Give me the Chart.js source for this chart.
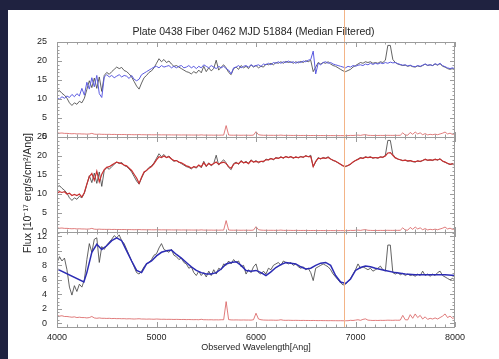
<!DOCTYPE html>
<html>
<head>
<meta charset="utf-8">
<title>Plate 0438 Fiber 0462 MJD 51884</title>
<script src="https://cdn.jsdelivr.net/npm/chart.js@4.4.0/dist/chart.umd.min.js"></script>
<style>
	html, body { margin: 0; padding: 0; width: 499px; height: 359px; overflow: hidden; background: #1f2240; }
	#page { position: absolute; left: 8px; top: 10px; width: 491px; height: 349px; background: #fff; }
</style>
</head>
<body>
<div id="page"><canvas id="spec" width="491" height="349"></canvas></div>
<script>
// wavelength sampling of the spectra, 25 Ang steps from 4000 to 8000
const GRID = Array.from({length: 161}, (_, i) => 4000 + 25 * i);

// observed flux (top and middle panels, black)
const FLUX = [
	11.8, 12.2, 11.5, 11.0, 10.2, 9.0, 8.3, 9.0,
	8.6, 9.4, 9.0, 10.2, 12.5, 14.8, 13.0, 15.5,
	12.8, 15.8, 12.0, 16.2, 17.0, 16.5, 17.2, 17.8,
	18.4, 18.0, 18.3, 17.5, 17.2, 16.6, 15.8, 14.6,
	13.4, 12.6, 14.2, 15.6, 16.2, 17.0, 17.4, 18.2,
	19.4, 20.6, 19.8, 20.4, 19.6, 20.0, 19.2, 18.6,
	18.8, 18.4, 18.0, 17.6, 17.2, 17.0, 16.6, 17.2,
	16.8, 17.6, 16.9, 18.6, 17.2, 18.2, 17.4, 18.0,
	20.2, 17.6, 18.4, 19.0, 18.2, 17.0, 16.4, 18.0,
	18.4, 17.8, 18.8, 18.2, 18.6, 18.0, 19.0, 18.4,
	18.8, 18.2, 18.6, 18.4, 19.2, 19.0, 19.4, 19.0,
	19.6, 19.4, 19.8, 19.4, 19.9, 19.6, 19.8, 19.4,
	19.8, 19.5, 19.9, 19.6, 20.1, 19.8, 20.2, 17.2,
	18.4, 19.6, 19.2, 19.6, 19.4, 19.8, 19.2, 18.8,
	18.6, 18.2, 17.8, 17.4, 17.2, 17.5, 17.8, 18.4,
	18.8, 19.2, 19.6, 19.4, 19.8, 19.6, 19.8, 19.4,
	19.6, 19.4, 19.8, 19.6, 20.2, 24.1, 24.1, 20.4,
	19.6, 19.2, 19.0, 18.8, 18.9, 18.6, 18.8, 18.5,
	18.4, 18.7, 18.5, 18.8, 19.2, 18.8, 19.0, 18.8,
	19.2, 18.9, 19.3, 18.6, 18.4, 18.0, 17.8, 18.0,
	17.6
];

// comparison spectrum (top panel, blue)
const TEMPLATE = [
	10.2, 10.0, 10.6, 10.2, 10.8, 10.4, 11.2, 10.6,
	11.4, 10.8, 12.8, 11.0, 14.4, 12.6, 15.6, 13.2,
	16.2, 11.4, 10.4, 15.8, 16.4, 15.8, 16.2, 15.6,
	16.0, 16.4, 15.8, 16.2, 16.0, 15.4, 16.2, 15.2,
	14.8, 15.2, 16.4, 16.8, 17.2, 17.6, 18.0, 18.4,
	18.6, 18.2, 18.8, 18.4, 18.6, 18.8, 18.2, 18.6,
	18.2, 18.6, 18.8, 18.2, 18.4, 18.8, 18.2, 18.6,
	18.0, 18.6, 18.2, 19.0, 18.6, 18.2, 18.8, 18.4,
	18.0, 18.6, 18.2, 18.6, 18.0, 17.6, 16.6, 18.2,
	18.4, 18.8, 18.2, 18.6, 18.8, 18.4, 19.0, 18.6,
	18.8, 19.0, 18.6, 19.2, 19.0, 19.4, 19.0, 19.6,
	19.4, 19.8, 19.4, 19.8, 19.6, 20.0, 19.6, 19.8,
	19.4, 19.8, 19.6, 20.0, 19.8, 20.2, 20.4, 22.6,
	16.6, 19.4, 19.0, 19.6, 19.8, 19.4, 19.6, 19.2,
	19.0, 18.8, 18.6, 18.4, 18.2, 18.6, 18.4, 18.8,
	18.6, 18.9, 19.0, 18.8, 19.2, 19.0, 19.4, 19.1,
	19.4, 19.2, 19.5, 19.3, 19.6, 19.4, 19.7, 19.5,
	19.6, 19.3, 19.1, 18.9, 19.0, 18.7, 18.9, 18.6,
	18.5, 18.8, 18.6, 18.9, 19.2, 18.9, 19.0, 18.8,
	19.3, 19.0, 19.4, 18.8, 18.5, 18.2, 18.0, 18.2,
	17.9
];

// median filtered flux (middle panel, red)
const FILTERED = [
	10.2, 10.6, 10.4, 10.6, 10.0, 10.2, 9.6, 9.9,
	9.6, 10.0, 9.2, 10.4, 12.6, 14.6, 15.4, 13.6,
	16.0, 13.2, 15.2, 16.4, 17.0, 17.2, 17.6, 18.0,
	18.4, 18.2, 18.0, 17.6, 17.4, 16.8, 16.2, 15.2,
	14.2, 12.8, 14.4, 15.8, 16.2, 16.8, 17.2, 18.0,
	19.0, 19.8, 19.6, 20.0, 19.6, 19.8, 19.2, 18.8,
	18.8, 18.4, 18.2, 17.8, 17.4, 17.2, 16.8, 17.2,
	17.0, 17.6, 17.2, 18.2, 17.4, 18.0, 17.6, 18.0,
	18.4, 17.8, 18.2, 18.4, 18.0, 17.2, 16.8, 17.8,
	18.2, 18.0, 18.6, 18.2, 18.4, 18.0, 18.8, 18.4,
	18.6, 18.4, 18.6, 18.6, 19.0, 19.0, 19.3, 19.1,
	19.5, 19.4, 19.7, 19.5, 19.8, 19.6, 19.8, 19.5,
	19.7, 19.6, 19.8, 19.7, 20.0, 19.8, 19.9, 17.2,
	18.6, 19.4, 19.3, 19.5, 19.4, 19.6, 19.2, 18.9,
	18.6, 18.2, 17.8, 17.4, 17.3, 17.5, 17.9, 18.4,
	18.8, 19.1, 19.5, 19.4, 19.7, 19.6, 19.7, 19.5,
	19.6, 19.5, 19.7, 19.7, 20.0, 20.8, 20.9, 20.2,
	19.5, 19.2, 19.0, 18.8, 18.9, 18.7, 18.8, 18.6,
	18.5, 18.7, 18.6, 18.8, 19.1, 18.9, 19.0, 18.9,
	19.1, 19.0, 19.2, 18.7, 18.4, 18.1, 17.8, 17.9,
	17.6
];

// flux in the bottom panel (black)
const SPEC3 = [
	8.4, 9.2, 8.6, 9.0, 7.4, 5.0, 3.9, 5.2,
	4.4, 5.4, 5.0, 6.0, 8.8, 11.0, 9.8, 11.6,
	11.8, 8.4, 10.6, 10.2, 10.8, 11.2, 11.6, 12.1,
	11.8, 12.2, 11.4, 11.0, 10.2, 9.4, 8.6, 7.8,
	7.0, 6.8, 7.2, 7.8, 8.2, 8.4, 8.8, 9.4,
	9.6, 10.4, 11.0, 10.2, 10.0, 9.8, 10.2, 9.4,
	9.2, 8.8, 9.0, 8.4, 8.2, 7.6, 7.8, 7.0,
	6.6, 7.2, 6.6, 7.0, 6.4, 7.2, 6.6, 7.4,
	6.8, 7.6, 7.4, 8.2, 8.0, 8.6, 8.2, 8.8,
	8.4, 8.6, 7.8, 8.0, 6.8, 7.4, 7.0, 7.8,
	8.2, 7.0, 6.8, 7.2, 6.8, 7.6, 7.4, 8.0,
	8.2, 8.4, 8.0, 8.6, 8.4, 8.2, 8.4, 8.0,
	8.2, 7.8, 7.6, 7.8, 7.4, 7.6, 7.0, 5.9,
	7.6, 7.8, 8.0, 8.2, 8.0, 7.8, 7.4, 6.8,
	6.4, 6.0, 5.6, 5.3, 5.4, 5.8, 6.2, 6.8,
	7.4, 8.2, 7.6, 7.8, 7.6, 7.4, 7.6, 7.2,
	7.4, 7.6, 7.9, 7.4, 7.2, 10.8, 10.8, 7.0,
	6.8, 7.0, 6.7, 6.9, 6.6, 6.8, 6.6, 6.7,
	6.5, 6.8, 6.6, 7.2, 6.6, 6.8, 6.5, 6.8,
	6.6, 7.0, 7.2, 6.6, 6.4, 6.2, 6.0, 6.2,
	6.0
];

// smooth fit through the bottom panel (blue)
const FIT_WAVE = [
	4000, 4270, 4300, 4350, 4400, 4450, 4500, 4550, 4600, 4650,
	4700, 4750, 4800, 4850, 4900, 4950, 5000, 5050, 5100, 5150,
	5200, 5250, 5300, 5350, 5400, 5450, 5500, 5550, 5600, 5650,
	5700, 5750, 5800, 5850, 5900, 5950, 6000, 6050, 6100, 6150,
	6200, 6250, 6300, 6350, 6400, 6450, 6500, 6550, 6600, 6650,
	6700, 6750, 6800, 6850, 6900, 6950, 7000, 7050, 7100, 7150,
	7200, 7300, 7400, 7500, 7600, 7700, 7800, 7900, 8000
];
const FIT = [
	7.5, 5.7, 7.0, 9.8, 10.9, 10.2, 10.7, 11.4, 11.8, 11.4,
	10.0, 8.6, 7.3, 7.0, 8.2, 8.6, 9.3, 9.8, 10.0, 10.1,
	9.5, 9.0, 8.4, 7.8, 7.3, 7.0, 6.8, 6.8, 7.0, 7.5,
	8.2, 8.4, 8.5, 8.0, 7.3, 7.2, 7.3, 7.0, 6.6, 7.1,
	7.7, 8.1, 8.4, 8.3, 8.2, 7.8, 7.5, 7.6, 8.0, 8.3,
	8.4, 8.0, 6.6, 5.7, 5.5, 6.1, 7.3, 7.7, 7.9, 7.8,
	7.6, 7.3, 7.0, 6.8, 6.7, 6.7, 6.7, 6.7, 6.6
];

// flux error (red, along the bottom of every panel)
const ERR = [
	1.1, 1.0, 1.05, 0.95, 0.95, 0.9, 0.85, 0.9,
	0.8, 0.85, 0.8, 0.8, 0.75, 0.8, 0.95, 0.75,
	0.7, 0.75, 0.7, 0.7, 0.68, 0.7, 0.66, 0.68,
	0.65, 0.66, 0.64, 0.65, 0.62, 0.64, 0.62, 0.6,
	0.62, 0.64, 0.6, 0.6, 0.58, 0.6, 0.58, 0.57,
	0.6, 0.58, 0.56, 0.57, 0.55, 0.56, 0.55, 0.54,
	0.55, 0.54, 0.53, 0.54, 0.52, 0.53, 0.52, 0.51,
	0.52, 0.5, 0.56, 0.5, 0.5, 0.49, 0.5, 0.48,
	0.49, 0.48, 0.5, 0.5, 3.0, 0.52, 0.48, 0.47,
	0.48, 0.47, 0.46, 0.47, 0.46, 0.46, 0.45, 0.5,
	1.4, 0.6, 0.5, 0.46, 0.45, 0.44, 0.45, 0.44,
	0.43, 0.44, 0.5, 0.43, 0.42, 0.43, 0.42, 0.41,
	0.42, 0.41, 0.4, 0.41, 0.4, 0.4, 0.39, 0.4,
	0.39, 0.38, 0.39, 0.38, 0.38, 0.37, 0.38, 0.37,
	0.37, 0.36, 0.37, 0.36, 0.36, 0.37, 0.42, 0.4,
	0.45, 0.5, 0.42, 0.55, 0.62, 0.45, 0.42, 0.4,
	0.41, 0.4, 0.42, 0.41, 0.42, 0.44, 0.43, 0.42,
	0.44, 0.43, 0.45, 1.1, 0.5, 0.48, 1.2, 0.7,
	1.3, 0.8, 1.1, 0.6, 0.9, 0.55, 0.7, 0.6,
	0.75, 0.6, 0.8, 1.0, 1.3, 0.8, 1.0, 0.7,
	0.8
];

const MARK_WAVE = 6880;
const TITLE = 'Plate 0438 Fiber 0462 MJD 51884 (Median Filtered)';
const X_TITLE = 'Observed Wavelength[Ang]';
const Y_TITLE = 'Flux [10\u207B\u00B9\u2077 erg/s/cm\u00B2/Ang]';

const FONT = '"Liberation Sans", Arial, sans-serif';
const INK = '#262626';

const pts = (wave, vals) => vals.map((y, i) => ({x: wave[i], y: y}));

function line(data, axis, color, width) {
	return {data: data, yAxisID: axis, borderColor: color, borderWidth: width,
		pointRadius: 0, tension: 0, fill: false};
}

// panels, top to bottom, with major / minor tick spacing
const PANELS = [
	{id: 'y1', min: 0, max: 25, major: 5, minor: 1},
	{id: 'y2', min: 0, max: 25, major: 5, minor: 1},
	{id: 'y3', min: -0.5, max: 12.6, major: 2, minor: 0.5}
];

// IDL style box around every panel, inward ticks, marker line and y title
const idlFrame = {
	id: 'idlFrame',
	afterDatasetsDraw(chart) {
		const ctx = chart.ctx;
		const x = chart.scales.x;
		const {left, right, bottom} = chart.chartArea;
		ctx.save();
		ctx.lineWidth = 1;

		const mx = Math.round(x.getPixelForValue(MARK_WAVE)) + 0.5;
		ctx.strokeStyle = '#f3b487';
		ctx.beginPath();
		ctx.moveTo(mx, 0);
		ctx.lineTo(mx, bottom);
		ctx.stroke();

		ctx.strokeStyle = '#9c9c9c';
		PANELS.forEach(p => {
			const s = chart.scales[p.id];
			const top = Math.round(s.top), bot = Math.round(s.bottom);
			ctx.strokeRect(left + 0.5, top + 0.5, right - left - 1, bot - top);
			ctx.beginPath();
			for (let k = Math.ceil(s.min / p.minor); k * p.minor <= s.max + 1e-9; k++) {
				const v = k * p.minor;
				const py = Math.round(s.getPixelForValue(v)) + 0.5;
				const r = v / p.major;
				const len = Math.abs(r - Math.round(r)) < 1e-6 ? 5 : 2.5;
				ctx.moveTo(left, py); ctx.lineTo(left + len, py);
				ctx.moveTo(right, py); ctx.lineTo(right - len, py);
			}
			for (let w = 4000; w <= 8000; w += 100) {
				const px = Math.round(x.getPixelForValue(w)) + 0.5;
				const len = w % 1000 === 0 ? 5 : 2.5;
				ctx.moveTo(px, bot); ctx.lineTo(px, bot - len);
				ctx.moveTo(px, top); ctx.lineTo(px, top + len);
			}
			ctx.stroke();
		});

		ctx.fillStyle = INK;
		ctx.font = '10.5px ' + FONT;
		ctx.textAlign = 'center';
		ctx.textBaseline = 'middle';
		ctx.translate(20.5, 183);
		ctx.rotate(-Math.PI / 2);
		ctx.fillText(Y_TITLE, 0, 0);
		ctx.restore();
	}
};

function yScale(p, weight) {
	return {
		type: 'linear',
		position: 'left',
		stack: 'panels',
		stackWeight: 1,
		weight: weight,
		min: p.min,
		max: p.max,
		grid: {display: false, drawTicks: false},
		border: {display: false},
		ticks: {stepSize: p.major, includeBounds: false, autoSkip: false, padding: 10, color: INK,
			font: {family: FONT, size: 9}, callback: v => String(v)},
		afterBuildTicks: s => { s.ticks = s.ticks.filter(t => t.value >= 0); },
		afterFit: s => { s.width = 49; }
	};
}

new Chart(document.getElementById('spec'), {
	type: 'line',
	data: {
		datasets: [
			line(pts(GRID, TEMPLATE), 'y1', '#5a5ae0', 1),
			line(pts(GRID, FLUX), 'y1', '#3c3c3c', 0.8),
			line(pts(GRID, ERR), 'y1', '#d85a5a', 0.8),
			line(pts(GRID, FILTERED), 'y2', '#c83030', 1.2),
			line(pts(GRID, FLUX), 'y2', '#3c3c3c', 0.8),
			line(pts(GRID, ERR), 'y2', '#d85a5a', 0.8),
			line(pts(FIT_WAVE, FIT), 'y3', '#2c2cb4', 1.5),
			line(pts(GRID, SPEC3), 'y3', '#3c3c3c', 0.8),
			line(pts(GRID, ERR), 'y3', '#d85a5a', 0.8)
		]
	},
	options: {
		responsive: false,
		animation: false,
		layout: {padding: 0},
		plugins: {
			legend: {display: false},
			tooltip: {enabled: false},
			title: {
				display: true,
				text: TITLE,
				color: INK,
				font: {family: FONT, size: 10.5, weight: 'normal'},
				padding: {top: 16, bottom: 3.4}
			}
		},
		scales: {
			x: {
				type: 'linear',
				position: 'bottom',
				min: 4000,
				max: 8000,
				grid: {display: false, drawTicks: false},
				border: {display: false},
				ticks: {stepSize: 1000, padding: 5, maxRotation: 0, color: INK,
					font: {family: FONT, size: 9}, callback: v => String(v)},
				title: {display: true, text: X_TITLE, color: INK, font: {family: FONT, size: 9}, padding: {top: 0, bottom: 6}},
				afterFit: s => { s.height = 32; }
			},
			y1: yScale(PANELS[0], 3),
			y2: yScale(PANELS[1], 2),
			y3: yScale(PANELS[2], 1),
			// empty margin on the right of the plot box
			margin: {
				type: 'linear',
				position: 'right',
				grid: {display: false, drawTicks: false},
				border: {display: false},
				ticks: {display: false},
				afterFit: s => { s.width = 44; }
			}
		}
	},
	plugins: [idlFrame]
});
</script>
</body>
</html>
